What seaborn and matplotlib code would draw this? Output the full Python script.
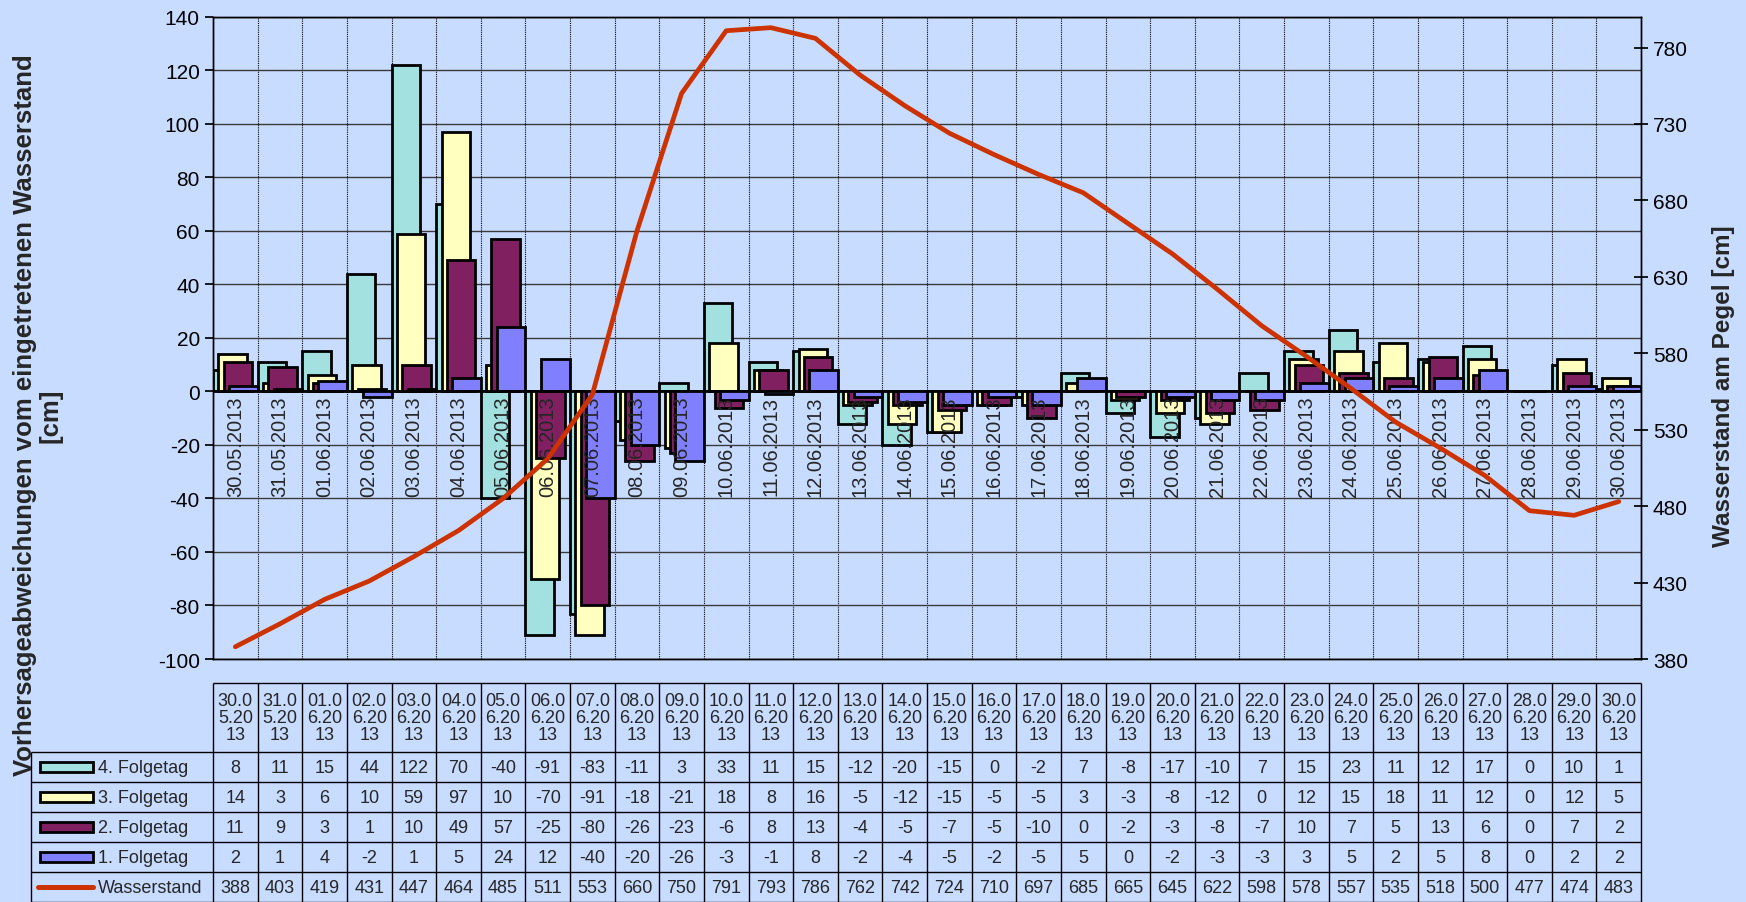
import numpy as np
import pandas as pd
import matplotlib
matplotlib.use("Agg")
import matplotlib.pyplot as plt
from matplotlib.patches import Rectangle
import seaborn as sns

dates = ["30.05.2013", "31.05.2013", "01.06.2013", "02.06.2013", "03.06.2013", "04.06.2013",
         "05.06.2013", "06.06.2013", "07.06.2013", "08.06.2013", "09.06.2013", "10.06.2013",
         "11.06.2013", "12.06.2013", "13.06.2013", "14.06.2013", "15.06.2013", "16.06.2013",
         "17.06.2013", "18.06.2013", "19.06.2013", "20.06.2013", "21.06.2013", "22.06.2013",
         "23.06.2013", "24.06.2013", "25.06.2013", "26.06.2013", "27.06.2013", "28.06.2013",
         "29.06.2013", "30.06.2013"]
folgetag4 = [8, 11, 15, 44, 122, 70, -40, -91, -83, -11, 3, 33, 11, 15, -12, -20, -15, 0, -2, 7,
             -8, -17, -10, 7, 15, 23, 11, 12, 17, 0, 10, 1]
folgetag3 = [14, 3, 6, 10, 59, 97, 10, -70, -91, -18, -21, 18, 8, 16, -5, -12, -15, -5, -5, 3,
             -3, -8, -12, 0, 12, 15, 18, 11, 12, 0, 12, 5]
folgetag2 = [11, 9, 3, 1, 10, 49, 57, -25, -80, -26, -23, -6, 8, 13, -4, -5, -7, -5, -10, 0,
             -2, -3, -8, -7, 10, 7, 5, 13, 6, 0, 7, 2]
folgetag1 = [2, 1, 4, -2, 1, 5, 24, 12, -40, -20, -26, -3, -1, 8, -2, -4, -5, -2, -5, 5,
             0, -2, -3, -3, 3, 5, 2, 5, 8, 0, 2, 2]
wasserstand = [388, 403, 419, 431, 447, 464, 485, 511, 553, 660, 750, 791, 793, 786, 762, 742,
               724, 710, 697, 685, 665, 645, 622, 598, 578, 557, 535, 518, 500, 477, 474, 483]

series_names = ["4. Folgetag", "3. Folgetag", "2. Folgetag", "1. Folgetag"]
series_vals = [folgetag4, folgetag3, folgetag2, folgetag1]
colors = ["#A3E0E0", "#FFFFC0", "#802060", "#8080FF"]
line_color = "#CC3300"
bg = "#C8DCFF"

n = len(dates)

df = pd.DataFrame({
    "datum": dates * 4,
    "serie": [s for s in series_names for _ in dates],
    "wert": folgetag4 + folgetag3 + folgetag2 + folgetag1,
})

sns.set_theme(style="ticks", rc={"axes.facecolor": bg, "figure.facecolor": bg})
plt.rcParams["font.family"] = ["Liberation Sans", "DejaVu Sans"]
plt.rcParams["axes.unicode_minus"] = False

fig = plt.figure(figsize=(17.46, 9.03), dpi=100)
ax = fig.add_axes([0.122, 0.2691, 0.8179, 0.711])

sns.barplot(data=df, x="datum", y="wert", hue="serie", order=dates, hue_order=series_names,
            palette=colors, saturation=1, width=0.48, gap=0, dodge=True, errorbar=None,
            edgecolor="black", linewidth=2.0, legend=False, ax=ax)

# excel style overlapping bars
for p in ax.patches:
    cx = p.get_x() + p.get_width() / 2
    p.set_width(0.64)
    p.set_x(cx - 0.32)

ax.set_xlim(-0.5, n - 0.5)
ax.set_ylim(-100, 140)
ax.set_yticks(range(-100, 141, 20))
ax.set_xticks(range(n))
ax.set_xticklabels([])
ax.set_xticks(np.arange(n + 1) - 0.5, minor=True)
ax.tick_params(axis="x", which="both", length=0)
ax.tick_params(axis="y", direction="out", length=6, labelsize=15, colors="black")
ax.grid(axis="y", which="major", color="#3a3a3a", lw=1)
ax.grid(axis="x", which="minor", color="black", lw=0.8, linestyle=(0, (1, 1)))
ax.set_axisbelow(True)
ax.axhline(0, color="black", lw=1.2, zorder=1.5)
ax.set_xlabel("")
ax.set_ylabel("")
for s in ax.spines.values():
    s.set_color("black")
    s.set_linewidth(1)

# date labels sitting under the zero line
for i, d in enumerate(dates):
    ax.annotate(d, (i, 0), xytext=(0, -3), textcoords="offset points", rotation=90,
                ha="center", va="top", fontsize=14.5, zorder=5)

ax2 = ax.twinx()
sns.lineplot(x=np.arange(n), y=wasserstand, color=line_color, linewidth=3.4, ax=ax2)
ax2.set_ylim(380, 800)
ax2.set_yticks(range(380, 781, 50))
ax2.set_xlim(-0.5, n - 0.5)
ax2.tick_params(axis="y", direction="inout", length=10, labelsize=15, colors="black")
ax2.set_ylabel("")
for s in ax2.spines.values():
    s.set_color("black")
    s.set_linewidth(1)

fig.text(0.987, 0.572, "Wasserstand am Pegel [cm]", rotation=90, ha="center", va="center",
         fontsize=17.5, fontweight="bold")
fig.text(0.0216, 0.54, "Vorhersageabweichungen vom eingetretenen Wasserstand\n[cm]",
         rotation=90, ha="center", va="center", fontsize=18.5, fontweight="bold",
         multialignment="center", linespacing=1.05)

# data table below the chart
tax = fig.add_axes([0.122, 0.0, 0.8179, 0.2425])
tax.set_xlim(-0.5, n - 0.5)
tax.set_ylim(0, 7.3)
tax.axis("off")
x_leg = -0.5 - 4.08

tax.vlines(np.arange(n + 1) - 0.5, 0, 7.3, colors="black", lw=1, clip_on=False)
tax.hlines([0, 1, 2, 3, 4, 5, 7.3], -0.5, n - 0.5, colors="black", lw=1, clip_on=False)
tax.hlines([0, 1, 2, 3, 4, 5], x_leg, -0.5, colors="black", lw=1, clip_on=False)
tax.vlines([x_leg], 0, 5, colors="black", lw=1, clip_on=False)

for i, d in enumerate(dates):
    head = "\n".join([d[k:k + 4] for k in range(0, len(d), 4)])
    tax.text(i, 6.15, head, ha="center", va="center", fontsize=13, linespacing=1.0)

rows = series_vals + [wasserstand]
for r, vals in enumerate(rows):
    yc = 4.5 - r
    for i, v in enumerate(vals):
        tax.text(i, yc, str(v), ha="center", va="center", fontsize=13)

for r, (name, col) in enumerate(zip(series_names, colors)):
    yc = 4.5 - r
    tax.add_patch(Rectangle((x_leg + 0.2, yc - 0.18), 1.19, 0.36, facecolor=col,
                            edgecolor="black", lw=2.0, clip_on=False))
    tax.text(x_leg + 1.5, yc, name, ha="left", va="center", fontsize=13)
tax.plot([x_leg + 0.16, x_leg + 1.4], [0.5, 0.5], color=line_color, lw=3.6, clip_on=False,
         solid_capstyle="round")
tax.text(x_leg + 1.5, 0.5, "Wasserstand", ha="left", va="center", fontsize=13)

fig.savefig("out.png", dpi=100, facecolor=bg)
